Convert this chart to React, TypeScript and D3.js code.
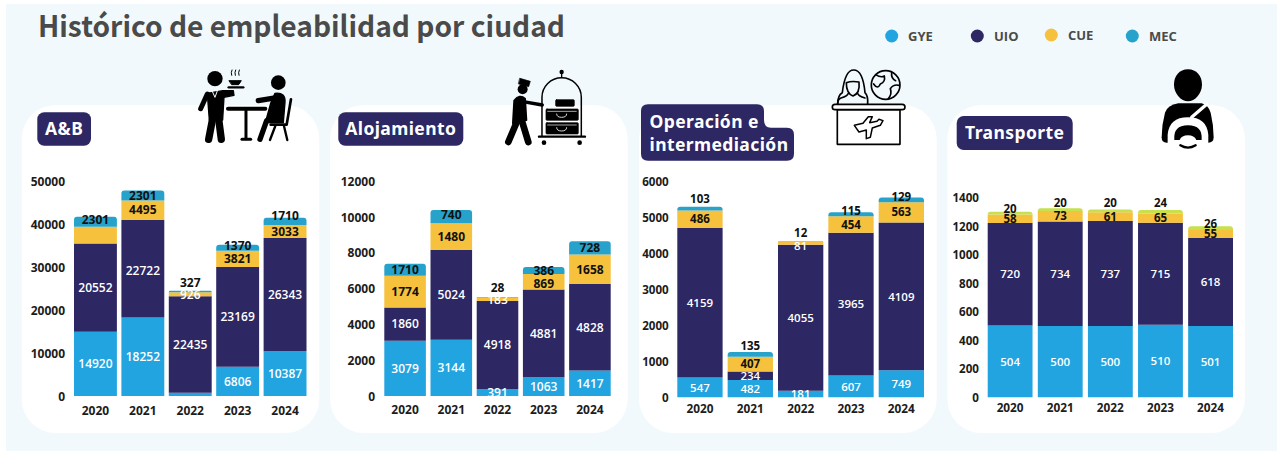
import React from "react";
import * as d3 from "d3";

const years = ["2020", "2021", "2022", "2023", "2024"];
const seriesNames = ["GYE", "UIO", "CUE", "MEC"];

const abGye = [14920, 18252, 770, 6806, 10387];
const abUio = [20552, 22722, 22435, 23169, 26343];
const abCue = [3900, 4495, 926, 3821, 3033];
const abMec = [2301, 2301, 327, 1370, 1710];

const aloGye = [3079, 3144, 391, 1063, 1417];
const aloUio = [1860, 5024, 4918, 4881, 4828];
const aloCue = [1774, 1480, 183, 869, 1658];
const aloMec = [667, 740, 28, 386, 728];

const opeGye = [547, 482, 181, 607, 749];
const opeUio = [4159, 234, 4055, 3965, 4109];
const opeCue = [486, 407, 81, 454, 563];
const opeMec = [103, 135, 12, 115, 129];

const traGye = [504, 500, 500, 510, 501];
const traUio = [720, 734, 737, 715, 618];
const traCue = [58, 73, 61, 65, 55];
const traMec = [20, 20, 20, 24, 26];

const abTicks = [0, 10000, 20000, 30000, 40000, 50000];
const aloTicks = [0, 2000, 4000, 6000, 8000, 10000, 12000];
const opeTicks = [0, 1000, 2000, 3000, 4000, 5000, 6000];
const traTicks = [0, 200, 400, 600, 800, 1000, 1200, 1400];

const COLORS: Record<string, string> = { GYE: "#21a4e0", UIO: "#2d2763", CUE: "#f6c13c", MEC: "#27a2ca" };
const FONT = "'Open Sans', 'Noto Sans', sans-serif";

type Panel = {
  card: [number, number];
  y0: number; yTop: number; max: number; ticks: number[];
  xRange: [number, number]; padding: number; tickX: number; yearY: number;
  font: number; mecColor: string;
  values: number[][];
  hidden: string[];           // "series-year" labels not printed in the reference
  white: string[];            // labels on yellow that are white
  nudge: Record<string, number>;
  text: Record<string, string>;
};

const panels: Panel[] = [
  {
    card: [21.7, 319.3], y0: 396, yTop: 181, max: 50000, ticks: abTicks,
    xRange: [74, 306.5], padding: 0.095, tickX: 65, yearY: 411, font: 12, mecColor: COLORS.MEC,
    values: [abGye, abUio, abCue, abMec],
    hidden: ["0-2", "2-0"], white: ["2-2"],
    nudge: { "3-0": -2, "3-2": -9, "3-3": -2, "3-4": -6, "1-1": 2 }, text: {},
  },
  {
    card: [330, 627.7], y0: 396, yTop: 181, max: 12000, ticks: aloTicks,
    xRange: [384.3, 610.7], padding: 0.1, tickX: 375, yearY: 409.5, font: 12, mecColor: COLORS.MEC,
    values: [aloGye, aloUio, aloCue, aloMec],
    hidden: [], white: ["2-2"],
    nudge: { "3-1": -2, "3-2": -10, "2-3": 2 }, text: { "3-0": "1710" },
  },
  {
    card: [639, 936.7], y0: 397.3, yTop: 181.3, max: 6000, ticks: opeTicks,
    xRange: [677.3, 924], padding: 0.1, tickX: 668.7, yearY: 409, font: 11.5, mecColor: COLORS.MEC,
    values: [opeGye, opeUio, opeCue, opeMec],
    hidden: [], white: ["2-2"],
    nudge: { "3-0": -9.5, "3-1": -8.5, "3-2": -9, "3-3": -3, "3-4": -3, "2-2": 3 }, text: {},
  },
  {
    card: [947.3, 1245], y0: 397.3, yTop: 197.8, max: 1400, ticks: traTicks,
    xRange: [987.7, 1233], padding: 0.105, tickX: 979, yearY: 408, font: 11.5, mecColor: "#c6e04e",
    values: [traGye, traUio, traCue, traMec],
    hidden: [], white: [],
    nudge: { "3-0": -4.5, "3-1": -6.5, "3-2": -8, "3-3": -8.5, "3-4": -4 }, text: {},
  },
];

function segPath(x: number, w: number, top: number, bottom: number, r: number) {
  const p = d3.path();
  const rr = Math.min(r, bottom - top);
  p.moveTo(x, bottom);
  p.lineTo(x, top + rr);
  p.arcTo(x, top, x + rr, top, rr);
  p.lineTo(x + w - rr, top);
  p.arcTo(x + w, top, x + w, top + rr, rr);
  p.lineTo(x + w, bottom);
  p.closePath();
  return p.toString();
}

function StackChart({ panel }: { panel: Panel }) {
  const y = d3.scaleLinear().domain([0, panel.max]).range([panel.y0, panel.yTop]);
  const x = d3.scaleBand<string>().domain(years).range(panel.xRange).paddingInner(panel.padding);
  const rows = years.map((yr, i) => {
    const row: Record<string, number | string> = { year: yr };
    seriesNames.forEach((s, k) => (row[s] = panel.values[k][i]));
    return row;
  });
  const stacked = d3.stack<any>().keys(seriesNames)(rows);
  const w = x.bandwidth();
  return (
    <g fontFamily={FONT}>
      <rect x={panel.card[0]} y={105} width={panel.card[1] - panel.card[0]} height={328} rx={34} fill="#fff" />
      {panel.ticks.map((t) => (
        <text key={t} x={panel.tickX} y={y(t)} dy="0.4em" textAnchor="end" fontSize={panel.font === 12 ? 12 : 11.6} fontWeight={700} fill="#1c1c1c">
          {t}
        </text>
      ))}
      {stacked.map((layer, k) =>
        layer.map((d, i) => {
          const bx = x(years[i]) as number;
          const top = y(d[1]);
          const bottom = y(d[0]);
          const fill = k === 3 ? panel.mecColor : COLORS[seriesNames[k]];
          return (
            <path
              key={k + "-" + i}
              d={segPath(bx, w, top, bottom, k === 3 ? 3 : 0)}
              fill={fill}
            />
          );
        })
      )}
      {stacked.map((layer, k) =>
        layer.map((d, i) => {
          const key = k + "-" + i;
          if (panel.hidden.includes(key)) return null;
          const bx = x(years[i]) as number;
          const cy = (y(d[0]) + y(d[1])) / 2 + (panel.nudge[key] || 0);
          const light = k < 2 || panel.white.includes(key);
          return (
            <text key={key} x={bx + w / 2} y={cy} dy="0.36em" textAnchor="middle" fontSize={panel.font} fontWeight={light ? 600 : 700} fill={light ? "#fff" : "#111"}>
              {panel.text[key] ?? panel.values[k][i]}
            </text>
          );
        })
      )}
      {years.map((yr) => (
        <text key={yr} x={(x(yr) as number) + w / 2} y={panel.yearY} dy="0.36em" textAnchor="middle" fontSize={panel.font === 12 ? 12 : 11.8} fontWeight={700} fill="#1c1c1c">
          {yr}
        </text>
      ))}
    </g>
  );
}

function Badge({ x, y, w, h, label }: { x: number; y: number; w: number; h: number; label: string }) {
  return (
    <g>
      <rect x={x} y={y} width={w} height={h} rx={7} fill="#2d2763" />
      <text x={x + w / 2} y={y + h / 2} dy="0.35em" textAnchor="middle" fontFamily="'Noto Sans', sans-serif" fontWeight={700} fontSize={17.5} letterSpacing={0.4} fill="#fff">
        {label}
      </text>
    </g>
  );
}

function IconDiner() {
  return (
    <g transform="translate(0,60) scale(0.3333)" stroke="#000" strokeLinecap="round" strokeLinejoin="round" fill="none">
      <circle cx={645} cy={56} r={23} fill="#000" stroke="none" />
      <path d="M622,100 L668,92 L700,92 L702,106 L672,112 L668,180 L628,180 Z" fill="#000" strokeWidth={4} />
      <path d="M622,102 L602,146" strokeWidth={15} />
      <path d="M638,176 L626,238" strokeWidth={22} />
      <path d="M656,176 L664,238" strokeWidth={22} />
      <path d="M636,92 L645,112 L653,90" stroke="#fff" strokeWidth={3} />
      <path d="M686,82 L730,82" strokeWidth={7} />
      <path d="M688,62 L724,62 L716,74 L696,74 Z" fill="#000" strokeWidth={3} />
      <path d="M695,46 Q692,38 696,30 M706,46 Q703,38 707,30 M717,46 Q714,38 718,30" strokeWidth={3} />
      <path d="M684,146 L796,146" strokeWidth={12} />
      <path d="M738,150 L738,236" strokeWidth={9} />
      <path d="M726,238 L752,238" strokeWidth={9} />
      <circle cx={835} cy={68} r={22} fill="#000" stroke="none" />
      <path d="M775,122 L835,112" strokeWidth={16} />
      <path d="M825,100 Q858,96 855,128 L850,188 L796,188 L812,130 Z" fill="#000" strokeWidth={4} />
      <path d="M800,182 L780,238" strokeWidth={16} />
      <path d="M873,118 L860,194 L812,194" strokeWidth={8} />
      <path d="M826,198 L810,240 M852,198 L862,240" strokeWidth={7} />
    </g>
  );
}

function IconBellhop() {
  return (
    <g transform="translate(325,60) scale(0.3333)" stroke="#000" strokeLinecap="round" strokeLinejoin="round" fill="none">
      <path d="M585,55 L616,64 L611,80 L581,72 Z" fill="#000" strokeWidth={2} />
      <circle cx={593} cy={88} r={15} fill="#000" stroke="none" />
      <path d="M568,122 Q584,102 600,116 L604,180 L564,190 Z" fill="#000" strokeWidth={6} />
      <path d="M590,124 L652,135" strokeWidth={10} />
      <path d="M578,180 L550,246" strokeWidth={20} />
      <path d="M590,180 L610,246" strokeWidth={20} />
      <path d="M651,228 L651,112 A59,59 0 0 1 769,112 L769,228" strokeWidth={4.5} />
      <path d="M710,36 L710,52" strokeWidth={4} />
      <circle cx={710} cy={36} r={6.5} fill="#000" stroke="none" />
      <path d="M642,230 L780,230" strokeWidth={7} />
      <circle cx={657} cy={248} r={7} fill="#000" stroke="none" />
      <circle cx={764} cy={248} r={7} fill="#000" stroke="none" />
      <rect x={692} y={119} width={56} height={20} rx={3} fill="#000" strokeWidth={2} />
      <rect x={663} y={147} width={97} height={34} rx={3} fill="#000" strokeWidth={2} />
      <rect x={663} y={188} width={97} height={34} rx={3} fill="#000" strokeWidth={2} />
      <path d="M668,154 L754,154 M668,195 L754,195" stroke="#fff" strokeWidth={2} />
      <path d="M695,162 Q695,172 710,172 Q725,172 725,162 M695,203 Q695,213 710,213 Q725,213 725,203" stroke="#fff" strokeWidth={2.5} />
    </g>
  );
}

function IconAgent() {
  return (
    <g transform="translate(635,60) scale(0.3333)" stroke="#000" strokeWidth={5} strokeLinecap="round" strokeLinejoin="round" fill="none">
      <path d="M608,132 Q608,106 622,98 Q630,30 656,30 Q684,30 690,98 Q700,108 698,132" />
      <path d="M634,68 Q650,62 672,66 Q676,100 654,108 Q634,100 634,68 Z" />
      <path d="M640,100 Q638,108 618,114 Q608,118 608,132 M668,100 Q670,108 690,114" />
      <circle cx={752} cy={75} r={43} />
      <path d="M722,44 Q738,54 748,48 Q752,66 736,72 Q728,90 716,72 M770,38 Q768,56 782,62 M792,76 Q776,72 766,86 Q772,102 760,116" />
      <rect x={592} y={133} width={218} height={16} rx={8} fill="#fff" />
      <rect x={607} y={150} width={188} height={103} fill="#fff" />
      <path d="M658,196 L684,190 L700,170 L712,170 L704,188 L726,184 L732,178 L744,182 L736,196 L712,204 L706,232 L694,236 L694,210 L672,216 Z" strokeWidth={4.5} />
    </g>
  );
}

function IconDriver() {
  return (
    <g transform="translate(945,60) scale(0.3333)" strokeLinecap="round" strokeLinejoin="round">
      <path d="M729,28 C755,28 771,48 771,74 C771,100 750,124 729,124 C708,124 687,100 687,74 C687,48 703,28 729,28 Z" fill="#000" />
      <path d="M700,130 L770,130 Q790,135 797,158 Q806,195 806,232 Q806,248 790,248 L665,248 Q650,248 650,232 Q650,195 660,158 Q668,135 700,130 Z" fill="#000" />
      <path d="M786,132 L740,172" stroke="#fff" strokeWidth={10} fill="none" />
      <path d="M668,252 L668,225 Q672,172 729,172 Q786,172 790,225 L790,252 Z" fill="#fff" />
      <path d="M688,240 Q684,196 729,196 Q774,196 770,240 L754,240 Q748,226 729,226 Q710,226 704,240 Z" fill="#000" />
      <path d="M664,252 L794,252" stroke="#fff" strokeWidth={6} fill="none" />
      <path d="M706,256 Q729,270 752,256" stroke="#000" strokeWidth={7} fill="none" />
    </g>
  );
}

const legendX = [891.7, 977.3, 1051.3, 1132.3];
const legendTextX = [908, 994, 1068, 1149];
const legendY = [36, 36, 35, 36];

export default function App() {
  return (
    <svg width={1277} height={451} style={{ position: "absolute", left: 0, top: 0, background: "#fff" }}>
      <rect x={6} y={4} width={1271} height={447} fill="#f1f9fd" />
      <text x={38} y={36.5} fontFamily="'Noto Sans CJK SC', 'Noto Sans', sans-serif" fontWeight={700} fontSize={29} fill="#4a4a4a" textLength={527} lengthAdjust="spacingAndGlyphs">
        Histórico de empleabilidad por ciudad
      </text>
      {seriesNames.map((s, i) => (
        <g key={s}>
          <circle cx={legendX[i]} cy={legendY[i]} r={6.5} fill={COLORS[s]} />
          <text x={legendTextX[i]} y={legendY[i]} dy="0.36em" fontFamily={FONT} fontWeight={700} fontSize={13} fill="#4a4a4a">
            {s}
          </text>
        </g>
      ))}
      {panels.map((p, i) => (
        <StackChart key={i} panel={p} />
      ))}
      <Badge x={37.3} y={112.3} w={53.7} h={33.4} label="A&B" />
      <Badge x={338.3} y={112.3} w={125} h={33.4} label="Alojamiento" />
      <Badge x={956.7} y={116} w={116} h={34} label="Transporte" />
      <path d="M648,104.3 L757,104.3 Q764,104.3 764,111 L764,120 Q764,127.7 771,127.7 L787,127.7 Q794,127.7 794,135 L794,153.7 Q794,160.7 787,160.7 L648,160.7 Q641,160.7 641,153.7 L641,111 Q641,104.3 648,104.3 Z" fill="#2d2763" />
      <g fontFamily="'Noto Sans', sans-serif" fontWeight={700} fontSize={17.5} letterSpacing={0.4} fill="#fff">
        <text x={649.5} y={121.5} dy="0.35em">Operación e</text>
        <text x={649.5} y={144.5} dy="0.35em">intermediación</text>
      </g>
      <IconDiner />
      <IconBellhop />
      <IconAgent />
      <IconDriver />
    </svg>
  );
}
